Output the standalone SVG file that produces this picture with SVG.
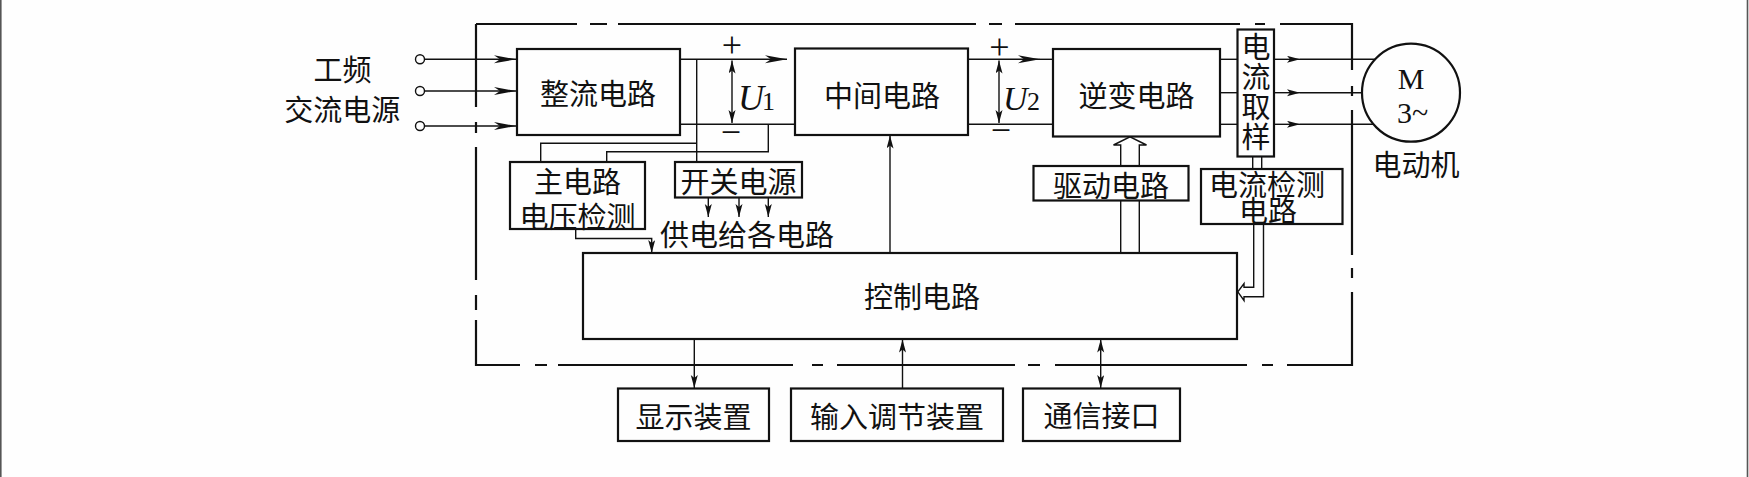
<svg xmlns="http://www.w3.org/2000/svg" width="1749" height="477" viewBox="0 0 1749 477">
<style>
.bx{fill:none;stroke:#111;stroke-width:2.2}
.ln{fill:none;stroke:#111;stroke-width:1.4}
.fr{fill:none;stroke:#111;stroke-width:2.2}
.t{font-family:"Noto Sans CJK SC","Noto Sans CJK JP",sans-serif;font-size:29px;fill:#111;text-anchor:middle;dominant-baseline:central}
.s{font-family:"Liberation Serif",serif;fill:#111}
</style>
<defs>
<marker id="ab" markerUnits="userSpaceOnUse" markerWidth="24" markerHeight="10" refX="22" refY="4" orient="auto-start-reverse"><path d="M0,0 L22,4 L0,8 L6,4 z" fill="#111"/></marker>
<marker id="am" markerUnits="userSpaceOnUse" markerWidth="14" markerHeight="8" refX="13" refY="3.5" orient="auto-start-reverse"><path d="M0,0 L13,3.5 L0,7 L3,3.5 z" fill="#111"/></marker>
</defs>
<rect x="0" y="0" width="1749" height="477" fill="#fefefe"/>
<line x1="0.8" y1="0" x2="0.8" y2="477" stroke="#555" stroke-width="1.6"/>
<line x1="1747.5" y1="0" x2="1747.5" y2="477" stroke="#555" stroke-width="1.6"/>

<g id="frame" class="fr">
<path d="M476,24 H577 M590,24 H607 M618,24 H976 M989,24 H1002 M1015,24 H1240 M1255,24 H1265 M1280,24 H1352 V70 M1352,86 V96 M1352,110 V255 M1352,268 V278 M1352,292 V365 H1287 M1273,365 H1262 M1247,365 H1055 M1040,365 H1028 M1015,365 H837 M823,365 H812 M793,365 H558 M547,365 H535 M520,365 H476 V320 M476,310 V295 M476,280 V147 M476,133 V122 M476,107 V24"/>
</g>

<g id="connectors">
<circle cx="420" cy="59.3" r="4.5" class="ln" stroke-width="1.6"/>
<circle cx="420" cy="91" r="4.5" class="ln" stroke-width="1.6"/>
<circle cx="420" cy="126" r="4.5" class="ln" stroke-width="1.6"/>
<line x1="424.5" y1="59.3" x2="516" y2="59.3" class="ln" marker-end="url(#ab)"/>
<line x1="424.5" y1="91" x2="516" y2="91" class="ln" marker-end="url(#ab)"/>
<line x1="424.5" y1="126" x2="516" y2="126" class="ln" marker-end="url(#ab)"/>
<line x1="680" y1="59.3" x2="787" y2="59.3" class="ln" marker-end="url(#ab)"/>
<line x1="680" y1="124.3" x2="795" y2="124.3" class="ln"/>
<line x1="968" y1="59.3" x2="1040" y2="59.3" class="ln" marker-end="url(#ab)"/>
<line x1="1040" y1="59.3" x2="1053" y2="59.3" class="ln"/>
<line x1="968" y1="124.3" x2="1053" y2="124.3" class="ln"/>
<line x1="732" y1="60.5" x2="732" y2="123" class="ln" marker-start="url(#am)" marker-end="url(#am)"/>
<line x1="999" y1="60.5" x2="999" y2="123" class="ln" marker-start="url(#am)" marker-end="url(#am)"/>
<path d="M696.7,59.3 V162 M696.7,143.3 H540.7 V162" class="ln"/>
<path d="M768.3,124.3 V151.7 H606.7 V162" class="ln"/>
<line x1="708.3" y1="197.5" x2="708.3" y2="217" class="ln" marker-end="url(#am)"/>
<line x1="739" y1="197.5" x2="739" y2="217" class="ln" marker-end="url(#am)"/>
<line x1="768.3" y1="197.5" x2="768.3" y2="217" class="ln" marker-end="url(#am)"/>
<path d="M575.7,229 V238.5 H651.7 V253" class="ln" marker-end="url(#am)"/>
<line x1="890" y1="253" x2="890" y2="135.5" class="ln" stroke-width="1.8" marker-end="url(#am)"/>
<line x1="1220" y1="59.3" x2="1237.5" y2="59.3" class="ln"/>
<line x1="1220" y1="92.7" x2="1237.5" y2="92.7" class="ln"/>
<line x1="1220" y1="124.3" x2="1237.5" y2="124.3" class="ln"/>
<line x1="1274" y1="59.3" x2="1300" y2="59.3" class="ln" marker-end="url(#am)"/>
<line x1="1300" y1="59.3" x2="1375" y2="59.3" class="ln"/>
<line x1="1274" y1="92.7" x2="1300" y2="92.7" class="ln" marker-end="url(#am)"/>
<line x1="1300" y1="92.7" x2="1362" y2="92.7" class="ln"/>
<line x1="1274" y1="124.3" x2="1300" y2="124.3" class="ln" marker-end="url(#am)"/>
<line x1="1300" y1="124.3" x2="1373.6" y2="124.3" class="ln"/>
<path d="M1120.7,166 V145 H1113.5 L1130,136.8 L1146.5,145 H1139.3 V166" class="ln" stroke-width="1.8"/>
<path d="M1120.7,200.5 V253 M1139.3,200.5 V253" class="ln" stroke-width="1.8"/>
<path d="M1252.7,156.7 V169 M1261.7,156.7 V169" class="ln" stroke-width="1.8"/>
<path d="M1253.7,224 V287.3 H1244 V283.5 L1237.8,291.8 L1244,300.5 V296.7 H1263.5 V224" class="ln" stroke-width="1.8"/>
<line x1="694.3" y1="339" x2="694.3" y2="388" class="ln" stroke-width="1.8" marker-end="url(#am)"/>
<line x1="902.5" y1="388.5" x2="902.5" y2="339.5" class="ln" marker-end="url(#am)"/>
<line x1="1100.7" y1="339.5" x2="1100.7" y2="388" class="ln" stroke-width="1.6" marker-start="url(#am)" marker-end="url(#am)"/>
</g>

<g id="labels">
<text class="t" x="342.5" y="67.5">工频</text>
<text class="t" x="342.3" y="108">交流电源</text>
<text class="s" x="732" y="57" font-size="36" text-anchor="middle">+</text>
<text class="s" x="731" y="144" font-size="36" text-anchor="middle">−</text>
<text class="s" x="738" y="110" font-size="36"><tspan font-style="italic">U</tspan><tspan x="762" font-size="26">1</tspan></text>
<text class="s" x="999.3" y="59" font-size="36" text-anchor="middle">+</text>
<text class="s" x="1001" y="142" font-size="36" text-anchor="middle">−</text>
<text class="s" x="1003" y="110" font-size="34"><tspan font-style="italic">U</tspan><tspan x="1027" font-size="26">2</tspan></text>
<text class="t" x="747" y="233">供电给各电路</text>
</g>

<g id="rectifier"><rect class="bx" x="517" y="49" width="163" height="86"/><text class="t" x="598" y="92" font-size="30">整流电路</text></g>
<g id="intermediate"><rect class="bx" x="795" y="48.5" width="173" height="86.5"/><text class="t" x="882" y="94">中间电路</text></g>
<g id="inverter"><rect class="bx" x="1053" y="49" width="167" height="87.5"/><text class="t" x="1136.5" y="94">逆变电路</text></g>
<g id="sampling"><rect class="bx" x="1237.5" y="29.5" width="36.5" height="127"/>
<text class="t" x="1256" y="32" writing-mode="vertical-rl" letter-spacing="1" style="text-anchor:start">电流取样</text></g>
<g id="voltage-detect"><rect class="bx" x="510" y="162" width="135" height="67"/><text class="t" x="577.5" y="180"><tspan x="577.5" y="180">主电路</tspan><tspan x="577.5" y="214.5">电压检测</tspan></text></g>
<g id="switch-power"><rect class="bx" x="675" y="162" width="127" height="35.5"/><text class="t" x="738.5" y="179.5">开关电源</text></g>
<g id="driver"><rect class="bx" x="1033.5" y="166" width="155" height="34.5"/><text class="t" x="1111" y="183.5">驱动电路</text></g>
<g id="current-detect"><rect class="bx" x="1201" y="169" width="141.5" height="55"/><text class="t" font-size="28"><tspan x="1267" y="183">电流检测</tspan><tspan x="1268" y="209">电路</tspan></text></g>
<g id="control"><rect class="bx" x="583" y="253" width="654" height="86"/><text class="t" x="922" y="295" font-size="30">控制电路</text></g>
<g id="motor"><circle class="bx" cx="1411" cy="92.7" r="49"/>
<text class="s" x="1411" y="89.3" font-size="30" text-anchor="middle">M</text>
<text class="s" x="1412.5" y="123" font-size="30" text-anchor="middle">3~</text>
<text class="t" x="1416" y="162.5">电动机</text></g>
<g id="display"><rect class="bx" x="618" y="388.5" width="151" height="52.5"/><text class="t" x="693.5" y="415" font-size="30">显示装置</text></g>
<g id="input"><rect class="bx" x="791" y="388.5" width="212" height="52.5"/><text class="t" x="897" y="415" font-size="30">输入调节装置</text></g>
<g id="comm"><rect class="bx" x="1023" y="388.5" width="157" height="52.5"/><text class="t" x="1101.5" y="414" font-size="30">通信接口</text></g>
</svg>
